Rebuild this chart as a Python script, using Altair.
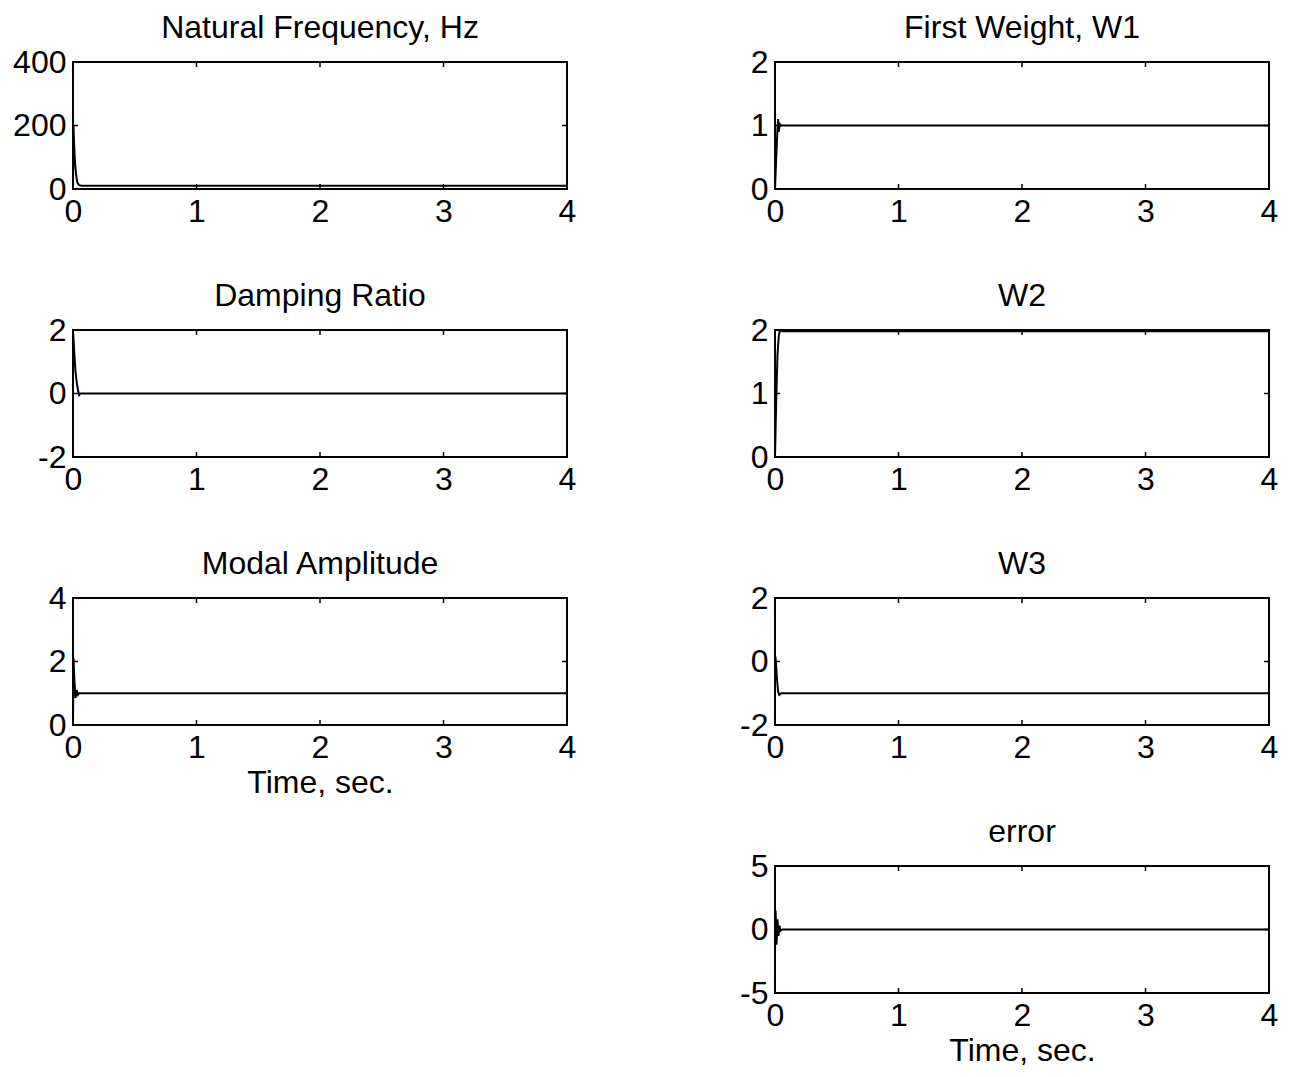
import altair as alt
import pandas as pd

# ---- data ----
X_TICKS = [0, 1, 2, 3, 4]

nf_t = [0, 0.004, 0.008, 0.015, 0.025, 0.035, 0.05, 0.07, 4.0]
nf_v = [0, 200, 150, 90, 45, 20, 12, 10, 10]

dr_t = [0, 0.01, 0.02, 0.03, 0.04, 0.05, 0.06, 4.0]
dr_v = [2.0, 1.3, 0.7, 0.35, 0.12, -0.05, 0.0, 0.0]

ma_t = [0, 0.004, 0.01, 0.02, 0.03, 0.04, 0.05, 4.0]
ma_v = [0, 2.1, 1.5, 0.85, 1.1, 0.95, 1.0, 1.0]

w1_t = [0, 0.01, 0.02, 0.025, 0.03, 0.04, 0.05, 4.0]
w1_v = [0, 0.5, 0.95, 1.1, 0.9, 1.02, 1.0, 1.0]

w2_t = [0, 0.01, 0.02, 0.03, 0.04, 0.06, 4.0]
w2_v = [0, 0.9, 1.6, 1.9, 2.0, 1.98, 1.98]

w3_t = [0, 0.005, 0.015, 0.025, 0.035, 0.05, 4.0]
w3_v = [0.2, 0.1, -0.5, -0.95, -1.05, -1.0, -1.0]

er_t = [0, 0.005, 0.012, 0.02, 0.028, 0.036, 0.045, 0.06, 4.0]
er_v = [0, 1.5, -1.2, 0.8, -0.5, 0.3, -0.1, 0, 0]

W, H = 494, 127
TICK = 5
FONT = "Liberation Sans"
FS = 32


def panel(title, t, v, ydom, yticks, xtitle=None):
    df = pd.DataFrame({"t": t, "v": v})
    xs = alt.Scale(domain=[0, 4], nice=False, zero=False)
    ys = alt.Scale(domain=ydom, nice=False, zero=False)
    xaxis = alt.Axis(values=X_TICKS, labelExpr="'' + datum.value", labelFlush=False)
    yaxis = alt.Axis(values=yticks, labelExpr="'' + datum.value", labelFlush=False)
    xt_title = xtitle if xtitle else None

    def X(f):
        return alt.X(f, scale=xs, axis=xaxis, title=xt_title)

    def Y(f):
        return alt.Y(f, scale=ys, axis=yaxis, title=None)

    line = alt.Chart(df).mark_line(color="black", strokeWidth=2, clip=True).encode(
        x=X("t:Q"), y=Y("v:Q"))
    xt = pd.DataFrame({"t": X_TICKS})
    yt = pd.DataFrame({"v": yticks})
    xb = alt.Chart(xt).mark_rule(color="black", strokeWidth=1.5).encode(
        x=X("t:Q"), y=alt.value(H), y2=alt.value(H - TICK))
    xtop = alt.Chart(xt).mark_rule(color="black", strokeWidth=1.5).encode(
        x=X("t:Q"), y=alt.value(0), y2=alt.value(TICK))
    yl = alt.Chart(yt).mark_rule(color="black", strokeWidth=1.5).encode(
        y=Y("v:Q"), x=alt.value(0), x2=alt.value(TICK))
    yr = alt.Chart(yt).mark_rule(color="black", strokeWidth=1.5).encode(
        y=Y("v:Q"), x=alt.value(W), x2=alt.value(W - TICK))
    return alt.layer(line, xb, xtop, yl, yr).properties(
        width=W, height=H, title=alt.TitleParams(title))


left = alt.vconcat(
    panel("Natural Frequency, Hz", nf_t, nf_v, [0, 400], [0, 200, 400]),
    panel("Damping Ratio", dr_t, dr_v, [-2, 2], [-2, 0, 2]),
    panel("Modal Amplitude", ma_t, ma_v, [0, 4], [0, 2, 4], xtitle="Time, sec."),
    spacing=51,
)
right = alt.vconcat(
    panel("First Weight, W1", w1_t, w1_v, [0, 2], [0, 1, 2]),
    panel("W2", w2_t, w2_v, [0, 2], [0, 1, 2]),
    panel("W3", w3_t, w3_v, [-2, 2], [-2, 0, 2]),
    panel("error", er_t, er_v, [-5, 5], [-5, 0, 5], xtitle="Time, sec."),
    spacing=51,
)

chart = alt.hconcat(left, right, spacing=161).properties(
    padding={"left": 3, "top": 3, "right": 5, "bottom": 0}
).configure(font=FONT).configure_view(
    stroke="black", strokeWidth=2
).configure_axis(
    domain=False, ticks=False, tickSize=0, grid=False,
    labelFont=FONT, labelFontSize=FS, labelColor="black", labelPadding=7,
    titleFont=FONT, titleFontSize=FS, titleFontWeight="normal", titleColor="black",
    titlePadding=4,
).configure_axisY(labelPadding=7).configure_title(
    font=FONT, fontSize=FS, fontWeight="normal", color="black", offset=1, anchor="middle"
)

chart.save("out.html", embed_options={"renderer": "svg", "actions": False})
